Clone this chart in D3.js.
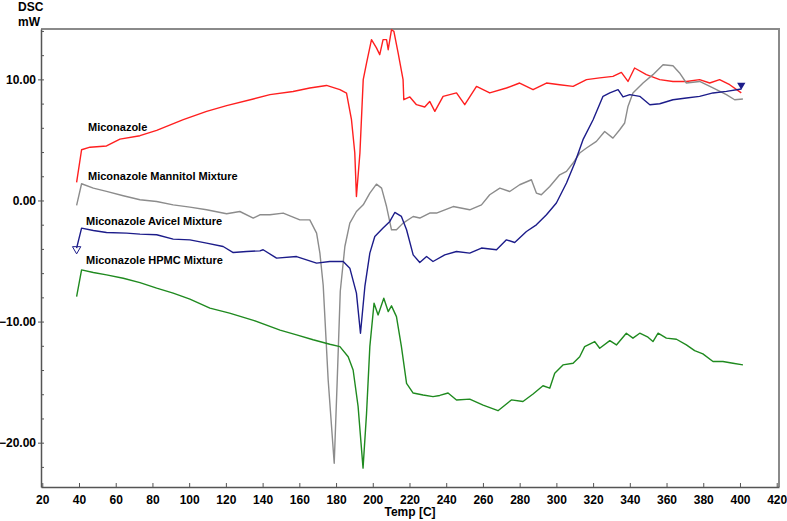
<!DOCTYPE html>
<html>
<head>
<meta charset="utf-8">
<script src="https://d3js.org/d3.v7.min.js"></script>
<style>
  body { margin: 0; background: #fff; }
  text { font-family: "Liberation Sans", Arial, sans-serif; font-weight: bold; fill: #000; }
</style>
</head>
<body>
<div id="my_dataviz"></div>
<script>

// values: temperature [C] and heat flow [mW]
var micTemp = [38.7, 41.4, 46, 55, 62.3, 73.2, 82.3, 96.8, 109.5, 120.4, 134.9, 144, 156.6, 165.7, 174.8, 182.1, 185.7, 188.4, 190.2, 191.1, 193, 194.8, 196.6, 199.3, 202, 203.8, 205.6, 207.5, 208.4, 210.2, 211.5, 213.8, 216.5, 216.9, 220.2, 223.8, 228.3, 231, 233.8, 238.3, 245.6, 250.1, 256.5, 263.7, 272.8, 280, 287.3, 294.6, 301.8, 309.1, 316.4, 323.6, 330.8, 335.4, 339, 342.6, 349, 356.3, 363.5, 370.8, 378, 383.5, 388.9, 394.4, 400.7];
var micDsc = [1.49, 4.19, 4.4, 4.5, 5.07, 5.35, 5.79, 6.67, 7.36, 7.83, 8.38, 8.74, 9.0, 9.29, 9.5, 9.15, 8.87, 6.67, 3.94, 0.33, 3.92, 9.98, 11.35, 13.28, 12.6, 12.04, 13.28, 13.28, 12.45, 14.1, 13.97, 12.18, 9.98, 8.32, 8.55, 7.91, 7.72, 8.18, 7.36, 8.6, 8.88, 7.91, 9.42, 8.88, 9.29, 9.7, 9.15, 9.7, 9.56, 9.42, 9.98, 10.12, 10.25, 10.58, 9.83, 10.94, 10.39, 9.98, 9.83, 9.83, 9.98, 9.7, 9.98, 9.56, 8.88];

var manTemp = [38.7, 41.4, 47.8, 55, 64.1, 73.2, 82.3, 91.3, 100.4, 109.5, 120.4, 127.6, 134.9, 138.5, 144, 151.2, 160.3, 165.7, 169.4, 171.2, 173, 175.7, 179, 180.6, 182.3, 184.8, 187.5, 191.1, 194.8, 198.4, 202, 204.8, 207.5, 210.2, 212.9, 216.5, 222, 225.6, 231, 234.7, 243.8, 252.8, 259.2, 263.7, 269.2, 274.6, 280, 286.4, 289.1, 291.8, 296.4, 301.8, 305.5, 309.1, 312.7, 316.4, 321.8, 326.3, 330.8, 334.5, 337.2, 339, 341.7, 347.2, 352.6, 358.1, 363.5, 367.1, 370.8, 378, 385.3, 392.6, 397.1, 401.6];
var manDsc = [-0.41, 1.38, 1.02, 0.75, 0.39, 0.06, -0.08, -0.36, -0.55, -0.77, -1.1, -0.91, -1.45, -1.18, -1.18, -1.04, -1.6, -1.6, -2.7, -4.35, -7.0, -14.8, -21.7, -15, -7.5, -3.8, -1.87, -0.91, -0.36, 0.61, 1.35, 1.02, -0.5, -2.42, -2.42, -1.87, -1.32, -1.45, -1.04, -1.04, -0.5, -0.77, -0.36, 0.47, 1.02, 0.74, 1.3, 1.71, 0.61, 0.47, 1.16, 2.12, 2.4, 3.09, 3.92, 4.33, 4.88, 5.7, 5.15, 5.84, 6.4, 7.77, 8.88, 9.7, 10.39, 11.21, 11.13, 10.53, 9.7, 9.83, 9.29, 8.74, 8.32, 8.38];

var aviTemp = [38.7, 41.4, 47.8, 55, 65.9, 73.2, 82.3, 91.3, 100.4, 109.5, 118.5, 124, 131.3, 138.5, 140.3, 147.6, 158.5, 169.4, 176.6, 183.9, 187.5, 191.1, 193.3, 195.7, 198.4, 201.1, 205.6, 209.3, 212, 215.6, 218.4, 222, 225.6, 229.3, 232.8, 239.2, 245.6, 252.8, 259.2, 267.4, 272.8, 277.3, 283.7, 289.1, 294.6, 300, 305.5, 310, 314.5, 320, 325.4, 329.1, 333.6, 336.3, 340, 345.4, 350.9, 356.3, 363.5, 370.8, 378, 385.3, 392.6, 400.7];
var aviDsc = [-3.93, -2.28, -2.48, -2.64, -2.7, -2.78, -2.83, -3.19, -3.25, -3.52, -3.8, -4.3, -4.21, -4.16, -4.07, -4.76, -4.63, -5.17, -5.04, -5.04, -5.59, -7.65, -10.96, -7.1, -4.35, -2.98, -2.28, -1.73, -0.99, -1.32, -2.42, -4.49, -5.12, -4.63, -5.04, -4.49, -4.21, -4.35, -3.93, -4.07, -3.25, -3.47, -2.56, -2.01, -1.18, -0.21, 1.44, 3.09, 5.02, 6.67, 8.6, 8.88, 9.15, 8.55, 8.74, 8.6, 7.91, 7.99, 8.32, 8.46, 8.6, 8.88, 9.01, 9.2];

var hpmcTemp = [38.7, 41.4, 47.8, 55, 64.1, 73.2, 82.3, 91.3, 100.4, 111.3, 122, 135, 149.5, 158.5, 167.5, 176.6, 182.1, 186.6, 189.3, 192, 194.7, 196.6, 198.4, 200.7, 202.9, 206, 208.4, 210.2, 212.9, 215.6, 218.4, 222, 227.4, 232.8, 236.5, 241, 245.6, 252.8, 260.1, 268.2, 275.5, 281.8, 287.3, 292.7, 296.4, 299.1, 303.6, 309.1, 312.7, 315.4, 320.9, 323.6, 329.1, 332.7, 338.1, 341.7, 345.4, 349.9, 352.6, 355.4, 359.9, 365.4, 370.8, 375.3, 379.8, 385.3, 390.7, 396.2, 401.6];
var hpmcDsc = [-7.93, -5.73, -5.95, -6.14, -6.42, -6.78, -7.24, -7.65, -8.15, -8.89, -9.3, -9.9, -10.7, -11.1, -11.5, -11.87, -12.07, -12.9, -14, -17, -22.1, -17.6, -12.07, -8.48, -9.45, -8.07, -9.17, -8.7, -9.59, -12.07, -15.1, -15.9, -16.06, -16.2, -16.1, -15.9, -16.47, -16.4, -16.9, -17.36, -16.47, -16.6, -15.98, -15.3, -15.5, -14.26, -13.58, -13.44, -12.9, -12.07, -11.65, -12.2, -11.57, -11.93, -10.96, -11.37, -10.96, -11.29, -11.65, -10.96, -11.37, -11.46, -11.93, -12.4, -12.67, -13.3, -13.3, -13.44, -13.58];

var seriesNames = ["Miconazole", "Miconazole Mannitol Mixture", "Miconazole Avicel Mixture", "Miconazole HPMC Mixture"];
var seriesColors = ["#ff1f1f", "#8c8c8c", "#1c1c8a", "#1f8a1f"];

var xTicks = [20, 40, 60, 80, 100, 120, 140, 160, 180, 200, 220, 240, 260, 280, 300, 320, 340, 360, 380, 400, 420];
var yTicks = [-20, -10, 0, 10];

// set the dimensions of the plot frame
var W = 787, H = 521;
var frame = { left: 41, top: 29, right: 779, bottom: 487 };

var svg = d3.select("#my_dataviz")
  .append("svg")
  .attr("width", W)
  .attr("height", H);

var x = d3.scaleLinear().domain([19.3, 421.25]).range([frame.left, frame.right]);
var y = d3.scaleLinear().domain([-23.66, 14.16]).range([frame.bottom, frame.top]);

// frame: top and right in light gray
svg.append("path")
  .attr("d", "M" + frame.left + "," + frame.top + "H" + frame.right + "V" + frame.bottom)
  .attr("fill", "none")
  .attr("stroke", "#8a8a8a")
  .attr("stroke-width", 2);

// x axis
var xAxis = svg.append("g")
  .attr("transform", "translate(0," + frame.bottom + ")")
  .call(d3.axisBottom(x).tickValues(xTicks).tickSizeInner(-4).tickSizeOuter(0).tickPadding(8));
xAxis.select(".domain").attr("stroke", "#555").attr("stroke-width", 1.5);
xAxis.selectAll(".tick line").attr("stroke", "#555");
xAxis.selectAll(".tick text")
  .attr("font-size", 12)
  .attr("fill", null);
xAxis.attr("font-family", null).attr("font-size", null);

// y axis: labelled majors outward, minors inward
var minor = d3.range(-22, 14.1, 2);
var yMinor = svg.append("g")
  .attr("transform", "translate(" + frame.left + ",0)")
  .call(d3.axisRight(y).tickValues(minor).tickSize(3).tickFormat(""));
yMinor.select(".domain").remove();
yMinor.selectAll(".tick line").attr("stroke", "#555");

var yAxis = svg.append("g")
  .attr("transform", "translate(" + frame.left + ",0)")
  .call(d3.axisLeft(y).tickValues(yTicks).tickSize(3).tickSizeOuter(0).tickPadding(2).tickFormat(d3.format(".2f")));
yAxis.select(".domain").attr("stroke", "#555").attr("stroke-width", 1.5);
yAxis.selectAll(".tick line").attr("stroke", "#555");
yAxis.selectAll(".tick text")
  .attr("font-size", 12)
  .attr("fill", null);
yAxis.attr("font-family", null).attr("font-size", null);

// axis titles
svg.append("text").attr("x", 18).attr("y", 11).attr("font-size", 12).text("DSC");
svg.append("text").attr("x", 18).attr("y", 26).attr("font-size", 12).text("mW");
svg.append("text")
  .attr("x", 410).attr("y", 516)
  .attr("text-anchor", "middle")
  .attr("font-size", 12)
  .text("Temp  [C]");

// curves
var line = d3.line()
  .x(function (d) { return x(d[0]); })
  .y(function (d) { return y(d[1]); });

var curves = [
  d3.zip(micTemp, micDsc),
  d3.zip(manTemp, manDsc),
  d3.zip(aviTemp, aviDsc),
  d3.zip(hpmcTemp, hpmcDsc)
];

svg.append("g")
  .selectAll("path")
  .data(curves)
  .enter()
  .append("path")
  .attr("d", line)
  .attr("fill", "none")
  .attr("stroke", function (d, i) { return seriesColors[i]; })
  .attr("stroke-width", 1.4)
  .attr("stroke-linejoin", "round");

// range markers on the avicel curve
var tri = d3.symbol().type(d3.symbolTriangle).size(30);
svg.append("path")
  .attr("d", tri)
  .attr("transform", "translate(" + x(aviTemp[0]) + "," + (y(aviDsc[0]) + 1) + ") rotate(180)")
  .attr("fill", "none")
  .attr("stroke", seriesColors[2])
  .attr("stroke-width", 1);
svg.append("path")
  .attr("d", tri)
  .attr("transform", "translate(" + x(aviTemp[aviTemp.length - 1]) + "," + (y(aviDsc[aviDsc.length - 1]) - 4) + ") rotate(180)")
  .attr("fill", seriesColors[2]);

// series labels
var labelPos = [[88, 131], [88, 180], [86, 225], [86, 264]];
svg.append("g")
  .selectAll("text")
  .data(seriesNames)
  .enter()
  .append("text")
  .attr("x", function (d, i) { return labelPos[i][0]; })
  .attr("y", function (d, i) { return labelPos[i][1]; })
  .attr("font-size", 11)
  .text(function (d) { return d; });

</script>
</body>
</html>
